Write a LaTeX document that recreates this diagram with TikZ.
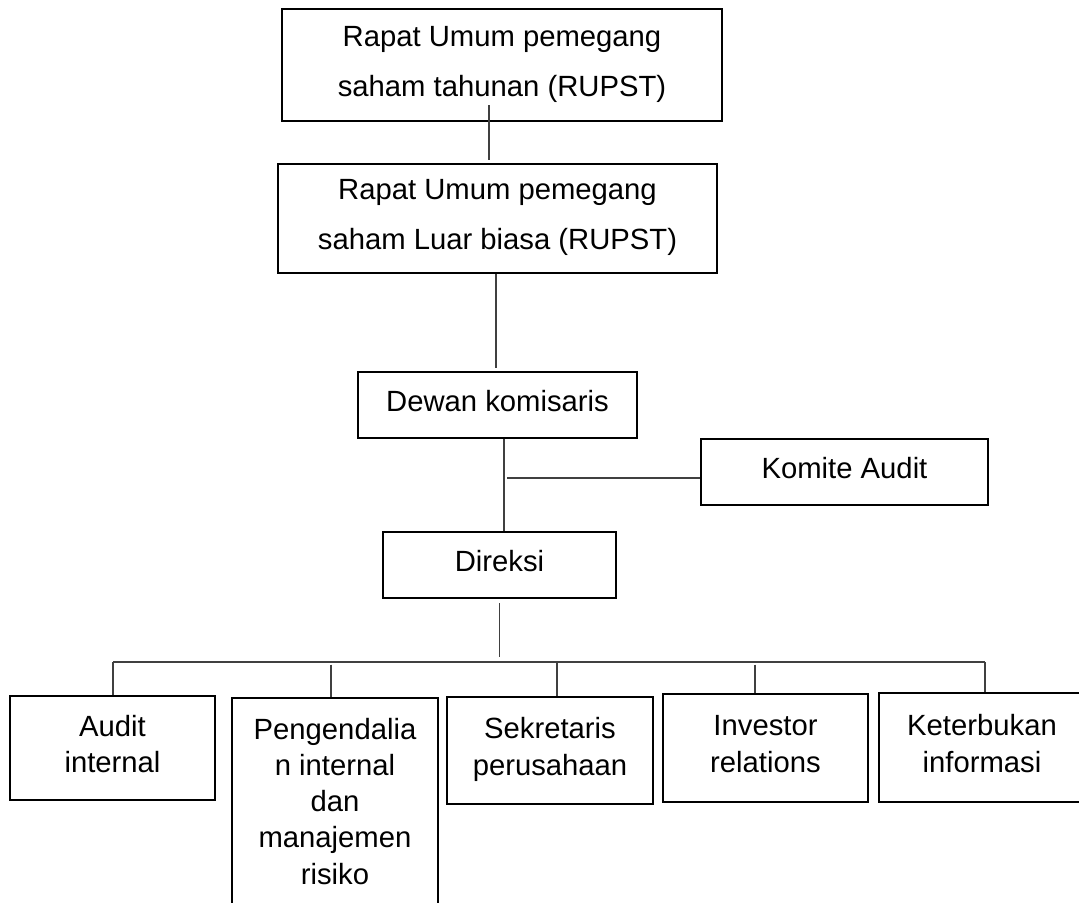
\documentclass[tikz,border=0pt]{standalone}
\usepackage{fontspec}
\setmainfont{Liberation Sans}

\begin{document}
\begin{tikzpicture}[x=0.025cm, y=-0.025cm,
    box/.style={draw, rectangle, line width=2pt, inner sep=0pt, align=center,
                text depth=0.2cm, font=\fontsize{20.8pt}{35.6pt}\selectfont},
    unit/.style={box, font=\fontsize{20.8pt}{25.8pt}\selectfont},
    link/.style={draw=black!75, line width=1pt}]

      \useasboundingbox (0,0) rectangle (1079,902);
      \fill[white] (0,0) rectangle (1079,902);
      \clip (0,0) rectangle (1079,902);

      % Nodes
      \node[box, minimum width=11cm, minimum height=2.8cm] (rupst) at (502,65)
        {Rapat Umum pemegang\\saham tahunan (RUPST)};
      \node[box, minimum width=10.975cm, minimum height=2.725cm] (rupslb) at (497.5,218.5)
        {Rapat Umum pemegang\\saham Luar biasa (RUPST)};
      \node[box, minimum width=6.975cm, minimum height=1.65cm] (dewan) at (497.5,405) {Dewan komisaris};
      \node[box, minimum width=7.175cm, minimum height=1.65cm] (komite) at (844.5,472) {Komite Audit};
      \node[box, minimum width=5.825cm, minimum height=1.65cm] (direksi) at (499.5,565) {Direksi};

      \node[unit, minimum width=5.125cm, minimum height=2.6cm] (audit) at (112.5,748) {Audit\\internal};
      \node[unit, minimum width=5.15cm, minimum height=5.35cm] (peng) at (335,805)
        {Pengendalia\\n internal\\dan\\manajemen\\risiko};
      \node[unit, minimum width=5.15cm, minimum height=2.675cm] (sekr) at (550,750.5) {Sekretaris\\perusahaan};
      \node[unit, minimum width=5.125cm, minimum height=2.7cm] (inv) at (765.5,748) {Investor\\relations};
      \node[unit, minimum width=5.15cm, minimum height=2.725cm] (ket) at (982,747.5) {Keterbukan\\informasi};

      \coordinate (kajoin) at (507,478);
      \coordinate (bus) at (499.5,662);
      \coordinate (busL) at (113,662);
      \coordinate (busR) at (985,662);

      % Edges
      \draw[link] ([shift={(-13,-17)}]rupst.south) -- ([shift={(-8.5,-3)}]rupslb.north);
      \draw[link] ([shift={(-1.5,0)}]rupslb.south) -- ([shift={(-1.5,-3)}]dewan.north);
      \draw[link] ([shift={(6.5,0)}]dewan.south) -- ([shift={(4.5,0)}]direksi.north);
      \draw[link] (kajoin) -- (kajoin -| komite.west);
      \draw[link] ([shift={(0,4)}]direksi.south) -- ([shift={(0,-5)}]bus);
      \draw[link] (busL) -- (busR);
      \draw[link] (busL) -- (audit.north -| busL);
      \draw[link] ([shift={(-4,-32)}]peng.north) -- ([shift={(-4,0)}]peng.north);
      \draw[link] ([shift={(7,-33)}]sekr.north) -- ([shift={(7,0)}]sekr.north);
      \draw[link] ([shift={(-10.5,-28)}]inv.north) -- ([shift={(-10.5,0)}]inv.north);
      \draw[link] (busR) -- (ket.north -| busR);

\end{tikzpicture}
\end{document}
